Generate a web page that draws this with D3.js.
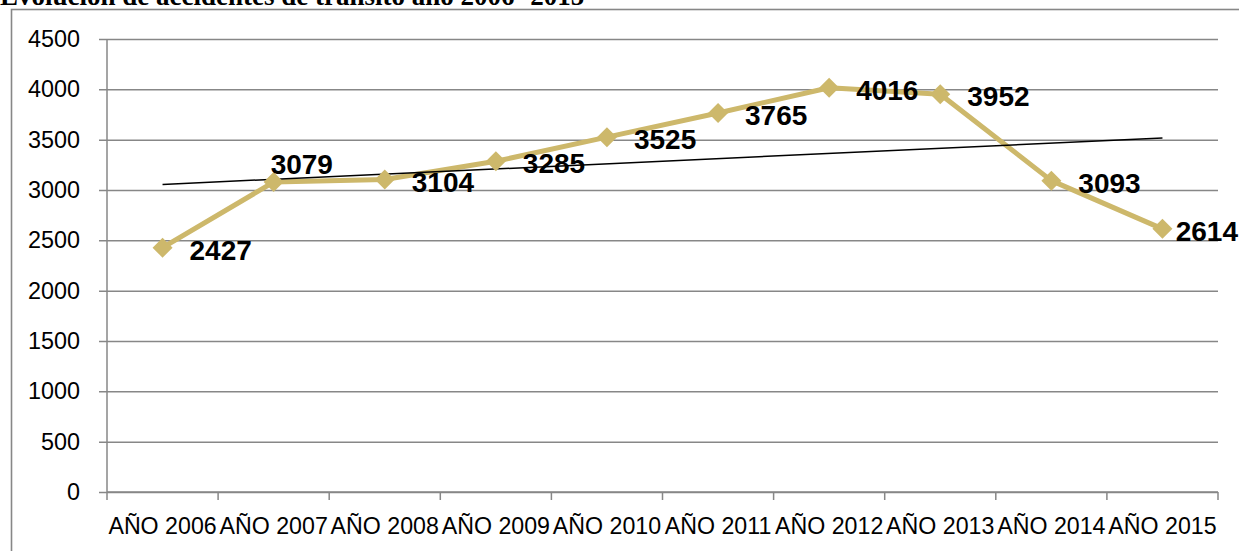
<!DOCTYPE html>
<html><head><meta charset="utf-8">
<script src="https://cdn.jsdelivr.net/npm/d3@7"></script>
<style>html,body{margin:0;padding:0;background:#fff;overflow:hidden}</style>
</head><body>
<svg id="c" width="1239" height="551"></svg>
<script>
const title = "Evolución de accidentes de tránsito año 2006 -2015";
const categories = ["AÑO 2006","AÑO 2007","AÑO 2008","AÑO 2009","AÑO 2010","AÑO 2011","AÑO 2012","AÑO 2013","AÑO 2014","AÑO 2015"];
const values = [2427,3079,3104,3285,3525,3765,4016,3952,3093,2614];
const yTicks = [0,500,1000,1500,2000,2500,3000,3500,4000,4500];
const labelPlacement = ["right","above","right","right","right","right","right","right","right","right"];

const W = 1239, H = 551;
const L = 107, R = 1218, T = 39, B = 492;
const svg = d3.select("#c");
const gray = "#878787";
const lineColor = "#CDB86B";
const fontSans = "'Liberation Sans', Arial, sans-serif";

// frame
svg.append("rect").attr("x",11.5).attr("y",9.5).attr("width",1400).attr("height",700)
  .attr("fill","none").attr("stroke",gray).attr("stroke-width",1.6);

// title
svg.append("text").attr("x",0).attr("y",5).text(title)
  .attr("font-family","'Liberation Serif','Times New Roman',serif").attr("font-weight","bold")
  .attr("font-size",27).attr("fill","#000");

const x = d3.scaleBand().domain(categories).range([L,R]).padding(0);
const y = d3.scaleLinear().domain([0,4500]).range([B,T]);
const cx = c => x(c) + x.bandwidth()/2;

// gridlines
const grid = svg.append("g").attr("transform",`translate(${L-8},0)`)
  .call(d3.axisLeft(y).tickValues(yTicks).tickSize(-(R-L+8)).tickFormat(""));
grid.select(".domain").remove();
grid.selectAll("line").attr("stroke",gray).attr("stroke-width",1.5);

// y labels
const ya = svg.append("g").attr("transform",`translate(${L-8},0)`)
  .call(d3.axisLeft(y).tickValues(yTicks).tickSize(0).tickPadding(19).tickFormat(d3.format("d")));
ya.select(".domain").remove();
ya.selectAll("text").attr("font-family",fontSans).attr("font-size",23.4).attr("fill","#000");

// y axis line
svg.append("line").attr("x1",L).attr("x2",L).attr("y1",T).attr("y2",B)
  .attr("stroke",gray).attr("stroke-width",1.5);

// x axis
const xa = svg.append("g").attr("transform",`translate(0,${B})`)
  .call(d3.axisBottom(x).tickSize(0).tickPadding(26));
xa.select(".domain").remove();
xa.selectAll("text").attr("font-family",fontSans).attr("font-size",23.2).attr("fill","#000");
const bounds = categories.map(c => x(c)).concat([x(categories[categories.length-1]) + x.bandwidth()]);
svg.append("g").selectAll("line").data(bounds).join("line")
  .attr("x1",d=>d).attr("x2",d=>d).attr("y1",B).attr("y2",B+8)
  .attr("stroke",gray).attr("stroke-width",1.5);
svg.append("line").attr("x1",L).attr("x2",R).attr("y1",B).attr("y2",B)
  .attr("stroke",gray).attr("stroke-width",1.5);

// series line
const pts = categories.map((c,i)=>({c, v: values[i], i}));
svg.append("path").datum(pts)
  .attr("d", d3.line().x(d=>cx(d.c)).y(d=>y(d.v)))
  .attr("fill","none").attr("stroke",lineColor).attr("stroke-width",5).attr("stroke-linejoin","round");

// trendline (linear regression)
const n = values.length;
const mx = d3.mean(values.map((_,i)=>i)), my = d3.mean(values);
const slope = d3.sum(values.map((v,i)=>(i-mx)*(v-my))) / d3.sum(values.map((_,i)=>(i-mx)*(i-mx)));
const icpt = my - slope*mx;
svg.append("line")
  .attr("x1",cx(categories[0])).attr("y1",y(icpt))
  .attr("x2",cx(categories[n-1])).attr("y2",y(icpt + slope*(n-1)))
  .attr("stroke","#000").attr("stroke-width",1.5);

// markers
svg.append("g").selectAll("path").data(pts).join("path")
  .attr("d", d3.symbol(d3.symbolSquare, 200))
  .attr("transform", d=>`translate(${cx(d.c)},${y(d.v)}) rotate(45)`)
  .attr("fill",lineColor);

// labels
const lab = svg.append("g").selectAll("text").data(pts).join("text")
  .text(d=>d.v)
  .attr("font-family",fontSans).attr("font-weight","bold").attr("font-size",28).attr("fill","#000");
lab.each(function(d){
  const t = d3.select(this);
  const w = this.getComputedTextLength();
  let lx, ly;
  if (labelPlacement[d.i] === "above") { lx = cx(d.c) - 3; ly = y(d.v) - 8; }
  else { lx = Math.min(cx(d.c) + 27, W - 1 - w); ly = y(d.v) + 12; }
  t.attr("x",lx).attr("y",ly);
});
</script>
</body></html>
